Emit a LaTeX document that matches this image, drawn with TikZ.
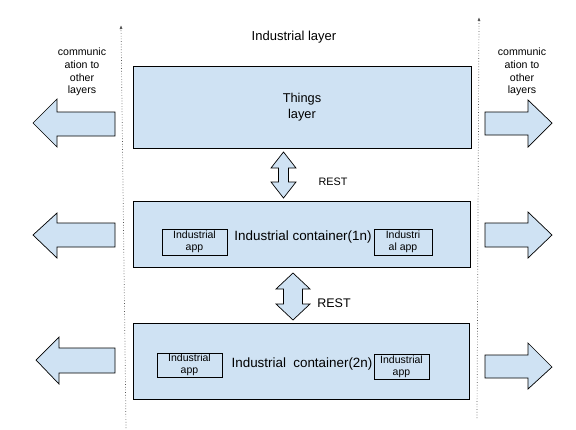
\documentclass[tikz,border=0pt]{standalone}
\usepackage{fontspec}
\setmainfont{Liberation Sans}
\usetikzlibrary{arrows.meta}
\definecolor{boxfill}{HTML}{CFE2F3}
\definecolor{dotgray}{HTML}{555555}
\tikzset{
  bigbox/.style={draw=black, fill=boxfill, line width=0.8pt, inner sep=0pt},
  appbox/.style={draw=black, fill=boxfill, line width=0.7pt, inner sep=0pt, align=center,
     font=\fontsize{10.5}{12}\selectfont},
  blockarrow/.style={draw=black, fill=boxfill, line width=0.7pt, line join=miter},
  guide/.style={draw=dotgray, dotted, line width=0.7pt, -{Latex[length=4pt,width=3pt]}},
  lbl/.style={inner sep=0pt, align=center},
}
\begin{document}
\begin{tikzpicture}[x=1pt,y=-1pt]
\useasboundingbox[fill=white] (0,0) rectangle (576,429);

% dotted guides
\coordinate (gl0) at (126,428); \coordinate (gl1) at (121,25);
\coordinate (gr0) at (477,418); \coordinate (gr1) at (479,17);
\draw[guide] (gl0) -- (gl1);
\draw[guide] (gr0) -- (gr1);

% title
\node[lbl, font=\fontsize{13}{15}\selectfont] (title) at (294,37) {Industrial layer};

% side texts
\node[lbl, font=\fontsize{10.6}{12.7}\selectfont] (cl) at (82,72) {communic\\ation to\\other\\layers};
\node[lbl, font=\fontsize{10.6}{12.7}\selectfont] (cr) at (522,72) {communic\\ation to\\other\\layers};

% main boxes
\node[bigbox, minimum width=338pt, minimum height=82pt, align=center,
      font=\fontsize{12.8}{16}\selectfont] (things) at (302,107) {Things\\layer};
\node[bigbox, minimum width=337pt, minimum height=66pt] (c1) at (301.5,234) {};
\node[bigbox, minimum width=336pt, minimum height=76pt] (c2) at (301,361) {};

% container labels
\node[lbl, font=\fontsize{13.4}{15}\selectfont] (c1t) at (303,237) {Industrial container(1n)};
\node[lbl, font=\fontsize{13.4}{15}\selectfont] (c2t) at (302,364) {Industrial\hspace{0.55em}container(2n)};

% app boxes
\node[appbox, minimum width=65pt, minimum height=26pt] (a11) at (194.5,242) {Industrial\\app};
\node[appbox, minimum width=58pt, minimum height=26pt] (a12) at (403,242) {Industri\\al app};
\node[appbox, minimum width=65pt, minimum height=24pt] (a21) at (189.5,365) {Industrial\\app};
\node[appbox, minimum width=55pt, minimum height=25pt] (a22) at (401.5,366.5) {Industrial\\app};

% REST double arrows
\draw[blockarrow] (283.5,152) -- (296,168) -- (288.5,168) -- (288.5,182) -- (296,182)
  -- (283.5,198) -- (271,182) -- (278.5,182) -- (278.5,168) -- (271,168) -- cycle;
\node[lbl, font=\fontsize{10.8}{12}\selectfont] (rest1) at (333,182) {REST};

\draw[blockarrow] (293,273) -- (310,289) -- (302.5,289) -- (302.5,304) -- (310,304)
  -- (293,320) -- (276,304) -- (283.5,304) -- (283.5,289) -- (276,289) -- cycle;
\node[lbl, font=\fontsize{12.5}{14}\selectfont] (rest2) at (334,303) {REST};

% left arrows
\draw[blockarrow] (33,123) -- (57,99) -- (57,112) -- (115,112) -- (115,136) -- (57,136) -- (57,147) -- cycle;
\draw[blockarrow] (33,235) -- (57,213) -- (57,223) -- (115,223) -- (115,247) -- (57,247) -- (57,258) -- cycle;
\draw[blockarrow] (36,360) -- (59,337) -- (59,348) -- (115,348) -- (115,373) -- (59,373) -- (59,384) -- cycle;

% right arrows
\draw[blockarrow] (552,123) -- (528,100) -- (528,112) -- (485,112) -- (485,135) -- (528,135) -- (528,147) -- cycle;
\draw[blockarrow] (552,235) -- (528,212) -- (528,223) -- (485,223) -- (485,247) -- (528,247) -- (528,258) -- cycle;
\draw[blockarrow] (552,367) -- (528,343) -- (528,355) -- (485,355) -- (485,378) -- (528,378) -- (528,389) -- cycle;
\end{tikzpicture}
\end{document}
